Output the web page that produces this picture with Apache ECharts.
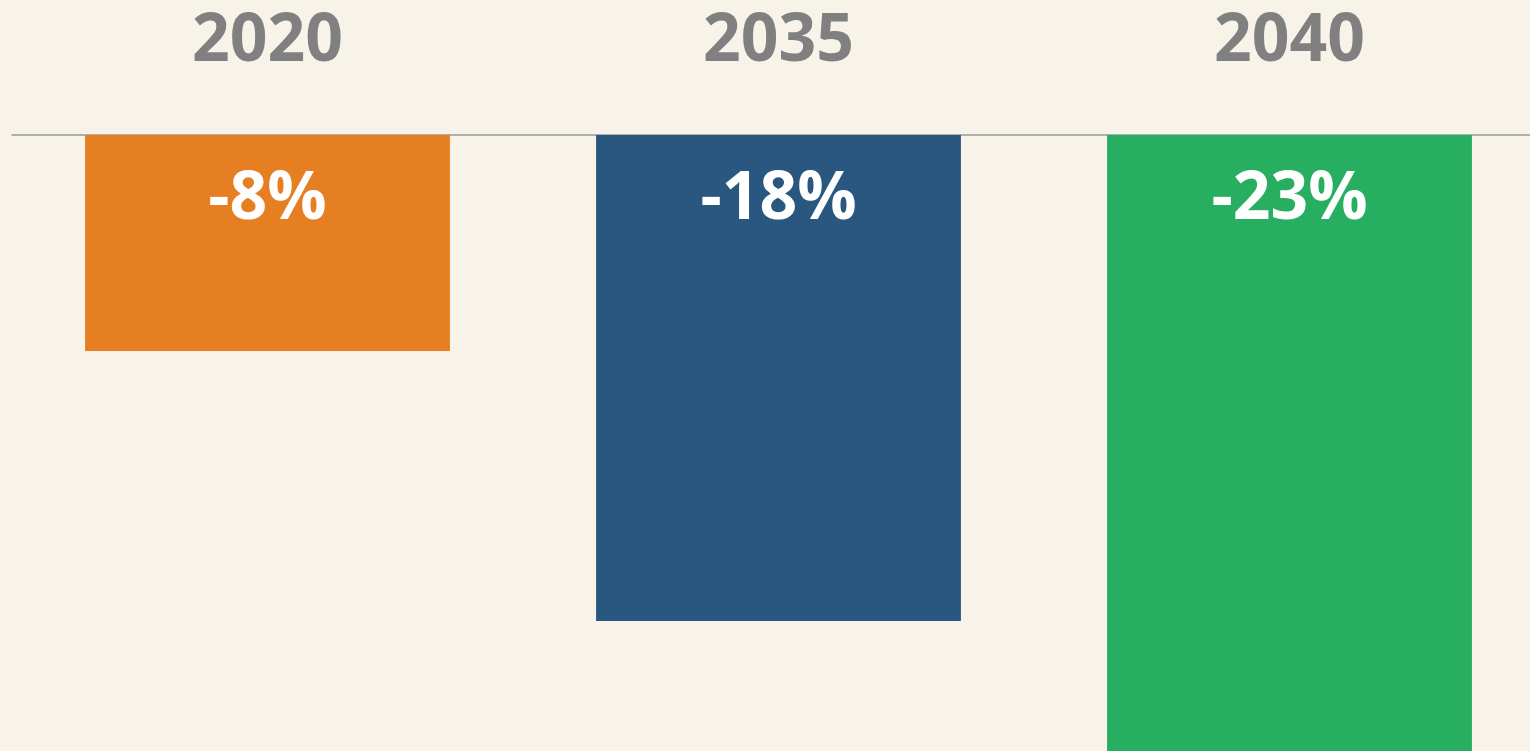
<!DOCTYPE html>
<html>
<head>
<meta charset="utf-8">
<script src="https://cdn.jsdelivr.net/npm/echarts@6/dist/echarts.min.js"></script>
<style>
  html, body { margin: 0; padding: 0; background: #f7f3e9; }
  #chart { width: 1530px; height: 751px; }
</style>
</head>
<body>
<div id="chart"></div>
<script>
// 柱形图：各年份变化百分比
var years = ['2020', '2035', '2040'];
var changes = [-8, -18, -23];
var barColors = ['#e67e22', '#2a5780', '#27ae60'];

var chart = echarts.init(document.getElementById('chart'));

chart.setOption({
  backgroundColor: '#f7f3e9',
  animation: false,
  grid: { left: 12, top: 135, width: 1533, height: 621, outerBoundsMode: 'none' },
  xAxis: {
    type: 'category',
    position: 'top',
    data: years,
    axisLine: { lineStyle: { color: '#999999', width: 1.5 } },
    axisTick: { show: false },
    axisLabel: {
      color: '#808080',
      fontFamily: 'Open Sans',
      fontWeight: 'bold',
      fontSize: 66,
      margin: 60
    }
  },
  yAxis: {
    type: 'value',
    min: -23,
    max: 0,
    show: false
  },
  series: [{
    type: 'bar',
    barWidth: '71.4%',
    data: changes.map(function (v, i) {
      return { value: v, itemStyle: { color: barColors[i] } };
    }),
    label: {
      show: true,
      position: 'insideTop', // 负值柱 => 顶部即零线一侧
      distance: 32,
      color: '#ffffff',
      fontFamily: 'Open Sans',
      fontWeight: 'bold',
      fontSize: 66,
      formatter: function (p) { return p.value + '%'; }
    }
  }]
});
</script>
</body>
</html>
